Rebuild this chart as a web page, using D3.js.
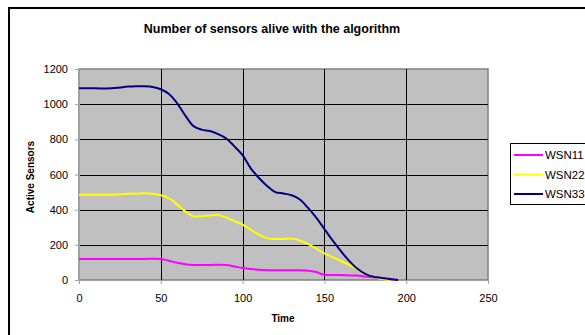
<!DOCTYPE html>
<html>
<head>
<script src="https://d3js.org/d3.v7.min.js"></script>
<style>
  body { margin: 0; background: #fff; }
  svg { display: block; font-family: "Liberation Sans", Arial, sans-serif; }
</style>
</head>
<body>
<div id="chart"></div>
<script>
// data
var seriesNames = ["WSN11", "WSN22", "WSN33"];
var seriesColors = ["#ff00ff", "#ffff00", "#000080"];

var time33 = [0, 10, 20, 25, 30, 35, 40, 45, 50, 55, 60, 65, 70, 75, 80, 85, 90, 95, 100, 105, 110, 115, 120, 125, 130, 135, 140, 145, 150, 155, 160, 165, 170, 175, 180, 185, 190, 195];
var wsn33 = [1090, 1090, 1090, 1095, 1100, 1102, 1102, 1098, 1085, 1058, 1005, 935, 875, 855, 847, 830, 805, 760, 710, 635, 580, 535, 500, 492, 482, 458, 410, 355, 290, 225, 165, 110, 65, 35, 18, 12, 6, 0];

var time22 = [0, 10, 20, 25, 30, 35, 40, 45, 50, 55, 60, 65, 70, 75, 80, 85, 90, 95, 100, 105, 110, 115, 120, 125, 130, 135, 140, 145, 150, 155, 160, 165, 170, 175, 180, 185, 190];
var wsn22 = [485, 485, 485, 488, 490, 490, 493, 490, 482, 465, 430, 390, 363, 363, 367, 370, 355, 335, 315, 285, 258, 238, 233, 233, 236, 225, 205, 178, 152, 130, 108, 88, 62, 35, 18, 5, 0];

var time11 = [0, 10, 20, 30, 40, 50, 55, 60, 65, 70, 80, 90, 95, 100, 105, 110, 120, 130, 140, 145, 150, 160, 170, 175, 180, 185, 190, 195];
var wsn11 = [120, 120, 120, 120, 120, 120, 110, 98, 90, 86, 86, 85, 77, 68, 62, 58, 55, 55, 53, 45, 30, 28, 25, 20, 15, 10, 5, 0];

var xTicks = [0, 50, 100, 150, 200, 250];
var yTicks = [0, 200, 400, 600, 800, 1000, 1200];

var W = 585, H = 335;
var plot = {left: 79, right: 488, top: 69, bottom: 280};

var svg = d3.select("#chart").append("svg")
    .attr("width", W)
    .attr("height", H);

// chart area border
svg.append("rect")
    .attr("x", 9).attr("y", 8)
    .attr("width", 620).attr("height", 360)
    .attr("fill", "#fff")
    .attr("stroke", "#000")
    .attr("stroke-width", 2);

var x = d3.scaleLinear().domain([0, 250]).range([plot.left, plot.right]);
var y = d3.scaleLinear().domain([0, 1200]).range([plot.bottom, plot.top]);

// plot area
svg.append("rect")
    .attr("x", plot.left).attr("y", plot.top)
    .attr("width", plot.right - plot.left)
    .attr("height", plot.bottom - plot.top)
    .attr("fill", "#c0c0c0")
    .attr("stroke", "#808080")
    .attr("stroke-width", 1.5);

// gridlines
svg.append("g").selectAll("line")
    .data(yTicks.filter(d => d > 0 && d < 1200))
    .enter().append("line")
    .attr("x1", plot.left).attr("x2", plot.right)
    .attr("y1", d => Math.round(y(d)) + 0.5).attr("y2", d => Math.round(y(d)) + 0.5)
    .attr("stroke", "#000");

svg.append("g").selectAll("line")
    .data(xTicks.filter(d => d > 0 && d < 250))
    .enter().append("line")
    .attr("y1", plot.top).attr("y2", plot.bottom)
    .attr("x1", d => Math.round(x(d)) + 0.5).attr("x2", d => Math.round(x(d)) + 0.5)
    .attr("stroke", "#000");

// axes
var yAxis = svg.append("g")
    .attr("transform", "translate(" + plot.left + ",0)")
    .call(d3.axisLeft(y).tickValues(yTicks).tickFormat(d3.format("d")).tickSize(4).tickPadding(7));
var xAxis = svg.append("g")
    .attr("transform", "translate(0," + plot.bottom + ")")
    .call(d3.axisBottom(x).tickValues(xTicks).tickFormat(d3.format("d")).tickSize(4).tickPadding(10));

[xAxis, yAxis].forEach(function(a) {
    a.select(".domain").attr("stroke", "#a0a0a0");
    a.selectAll(".tick line").attr("stroke", "#a0a0a0");
    a.selectAll("text")
        .attr("fill", "#000")
        .style("font-size", "11px")
        .style("font-family", "'Liberation Sans', Arial, sans-serif");
});

// lines
var line = d3.line()
    .x(d => x(d[0]))
    .y(d => y(d[1]))
    .curve(d3.curveCatmullRom.alpha(0.5));

var allSeries = [
    d3.zip(time11, wsn11),
    d3.zip(time22, wsn22),
    d3.zip(time33, wsn33)
];

svg.append("g").selectAll("path")
    .data(allSeries)
    .enter().append("path")
    .attr("d", line)
    .attr("fill", "none")
    .attr("stroke", (d, i) => seriesColors[i])
    .attr("stroke-width", 2);

// title
svg.append("text")
    .attr("x", 272)
    .attr("y", 33)
    .attr("text-anchor", "middle")
    .style("font-size", "12.5px")
    .style("font-weight", "bold")
    .text("Number of sensors alive with the algorithm");

// axis titles
svg.append("text")
    .attr("x", 283)
    .attr("y", 322)
    .attr("text-anchor", "middle")
    .style("font-size", "10px")
    .style("font-weight", "bold")
    .text("Time");

svg.append("text")
    .attr("transform", "translate(34,177) rotate(-90)")
    .attr("text-anchor", "middle")
    .style("font-size", "10px")
    .style("font-weight", "bold")
    .text("Active Sensors");

// legend
var legend = svg.append("g");
legend.append("rect")
    .attr("x", 510.5).attr("y", 143.5)
    .attr("width", 120).attr("height", 61)
    .attr("fill", "#fff")
    .attr("stroke", "#000");

var rows = legend.selectAll(".legend")
    .data(seriesNames)
    .enter().append("g")
    .attr("class", "legend")
    .attr("transform", (d, i) => "translate(0," + (155 + i * 19.5) + ")");

rows.append("line")
    .attr("x1", 514).attr("x2", 543)
    .attr("y1", 0).attr("y2", 0)
    .attr("stroke", (d, i) => seriesColors[i])
    .attr("stroke-width", 2);

rows.append("text")
    .attr("x", 545)
    .attr("y", 0)
    .attr("dy", "0.35em")
    .style("font-size", "11.5px")
    .text(d => d);
</script>
</body>
</html>
